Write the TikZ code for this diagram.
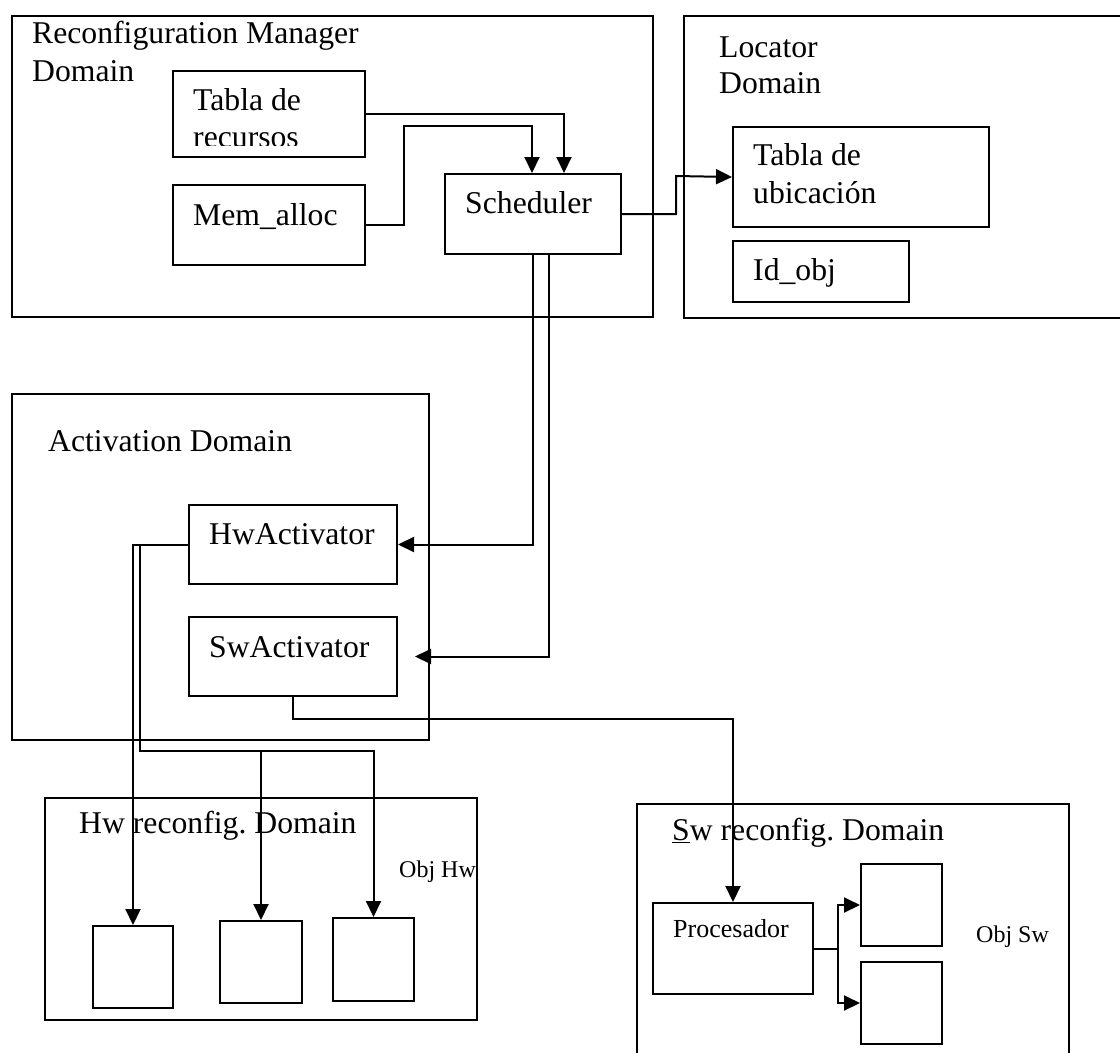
\documentclass[tikz,border=0pt]{standalone}
\usepackage{fontspec}
\setmainfont{Liberation Serif}
\usetikzlibrary{positioning,arrows.meta}
\frenchspacing

\tikzset{
  blk/.style={draw, line width=2pt, inner sep=0pt, anchor=north west},
  lbl/.style={anchor=base west, inner sep=0pt, font=\fontsize{31.7}{38}\selectfont},
  small/.style={anchor=base west, inner sep=0pt, font=\fontsize{24}{29}\selectfont},
  arr/.style={-{Triangle[length=16pt,width=15pt]}},
  wire/.style={line width=2pt}
}

\begin{document}
\begin{tikzpicture}[x=1pt,y=-1pt]
        \clip (0,0) rectangle (1120,1053);
        \fill[white] (0,0) rectangle (1120,1053);

        %% Reconfiguration Manager
        \node[blk, minimum width=641pt, minimum height=301pt] (rmdom) at (11,15) {};
        \node[lbl] (rmtxt) at (32,43) {Reconfiguration Manager};
        \node[lbl] (rmtxtb) at (32,81) {Domain};
        \node[blk, minimum width=192pt, minimum height=86pt] (tablarec) at (172,70) {};
        \node[lbl] (tablarectxt) at (193,110) {Tabla de};
        \begin{scope}
            \clip (172,70) rectangle (364,145);
            \node[lbl] (tablarectxtb) at (193,147) {recursos};
        \end{scope}
        \node[blk, minimum width=192pt, minimum height=80pt] (memalloc) at (172,184) {};
        \node[lbl] (memalloctxt) at (193,225) {Mem\_alloc};
        \node[blk, minimum width=176pt, minimum height=80pt] (sched) at (444,173) {};
        \node[lbl] (schedtxt) at (465,213) {Scheduler};

        %% Locator
        \node[blk, minimum width=500pt, minimum height=302pt] (locdom) at (683,15) {};
        \node[lbl] (loctxt) at (719,57) {Locator};
        \node[lbl] (loctxtb) at (719,93) {Domain};
        \node[blk, minimum width=256pt, minimum height=100pt] (tablaubi) at (732,126) {};
        \node[lbl] (tablaubitxt) at (753,165) {Tabla de};
        \node[lbl] (tablaubitxtb) at (753,203) {ubicación};
        \node[blk, minimum width=176pt, minimum height=61pt] (idobj) at (732,240) {};
        \node[lbl] (idobjtxt) at (753,280) {Id\_obj};

        %% Activation
        \node[blk, minimum width=417pt, minimum height=346pt] (actdom) at (11,393) {};
        \node[lbl] (acttxt) at (48,451) {Activation Domain};
        \node[blk, minimum width=208pt, minimum height=79pt] (hwact) at (188,504) {};
        \node[lbl] (hwacttxt) at (209,544) {HwActivator};
        \node[blk, minimum width=208pt, minimum height=79pt] (swact) at (188,616) {};
        \node[lbl] (swacttxt) at (209,657) {SwActivator};

        %% Hw reconfig
        \node[blk, minimum width=432pt, minimum height=222pt] (hwdom) at (44,797) {};
        \node[lbl] (hwtxt) at (79,833) {Hw reconfig. Domain};
        \node[small] (objhw) at (399,877) {Obj Hw};
        \node[blk, minimum width=80pt, minimum height=82pt] (hwa) at (92,925) {};
        \node[blk, minimum width=82pt, minimum height=82pt] (hwb) at (219,920) {};
        \node[blk, minimum width=81pt, minimum height=83pt] (hwc) at (332,917) {};

        %% Sw reconfig
        \node[blk, minimum width=432pt, minimum height=300pt] (swdom) at (636,803) {};
        \node[lbl] (swtxt) at (672,840) {\underline{S}w reconfig. Domain};
        \node[blk, minimum width=160pt, minimum height=91pt] (proc) at (652,902) {};
        \node[anchor=base west, inner sep=0pt, font=\fontsize{26}{31}\selectfont] (proctxt) at (673,937) {Procesador};
        \node[small] (objsw) at (976,942) {Obj Sw};
        \node[blk, minimum width=81pt, minimum height=82pt] (swa) at (860,863) {};
        \node[blk, minimum width=81pt, minimum height=82pt] (swb) at (860,961) {};

        %% connectors
        \coordinate (schin) at (532,173);
        \coordinate (hwbus) at (140,751);
        \draw[wire,arr] (tablarec.east) -| (564,173);
        \draw[wire,arr] (memalloc.east) -| (404,126) -| (schin);
        \draw[wire,arr] (sched.east) -| (676,176) -- (tablaubi.west);
        \draw[wire,arr] (sched.south) |- (hwact.east);
        \draw[wire,arr,shorten >=17pt] ([xshift=16pt]sched.south) |- (swact.east);
        \draw[wire,arr] (hwact.west) -| (hwa.north);
        \draw[wire,arr] (hwact.west) -| (hwbus) -| (hwc.north);
        \draw[wire,arr] (hwbus -| hwb.north) -- (hwb.north);
        \draw[wire,arr] (swact.south) -- ++(0,22) -| (proc.north);
        \draw[wire,arr] (proc.east) -- ++(24,0) |- (swa.west);
        \draw[wire,arr] (proc.east) -- ++(24,0) |- (swb.west);
    \end{tikzpicture}
\end{document}
